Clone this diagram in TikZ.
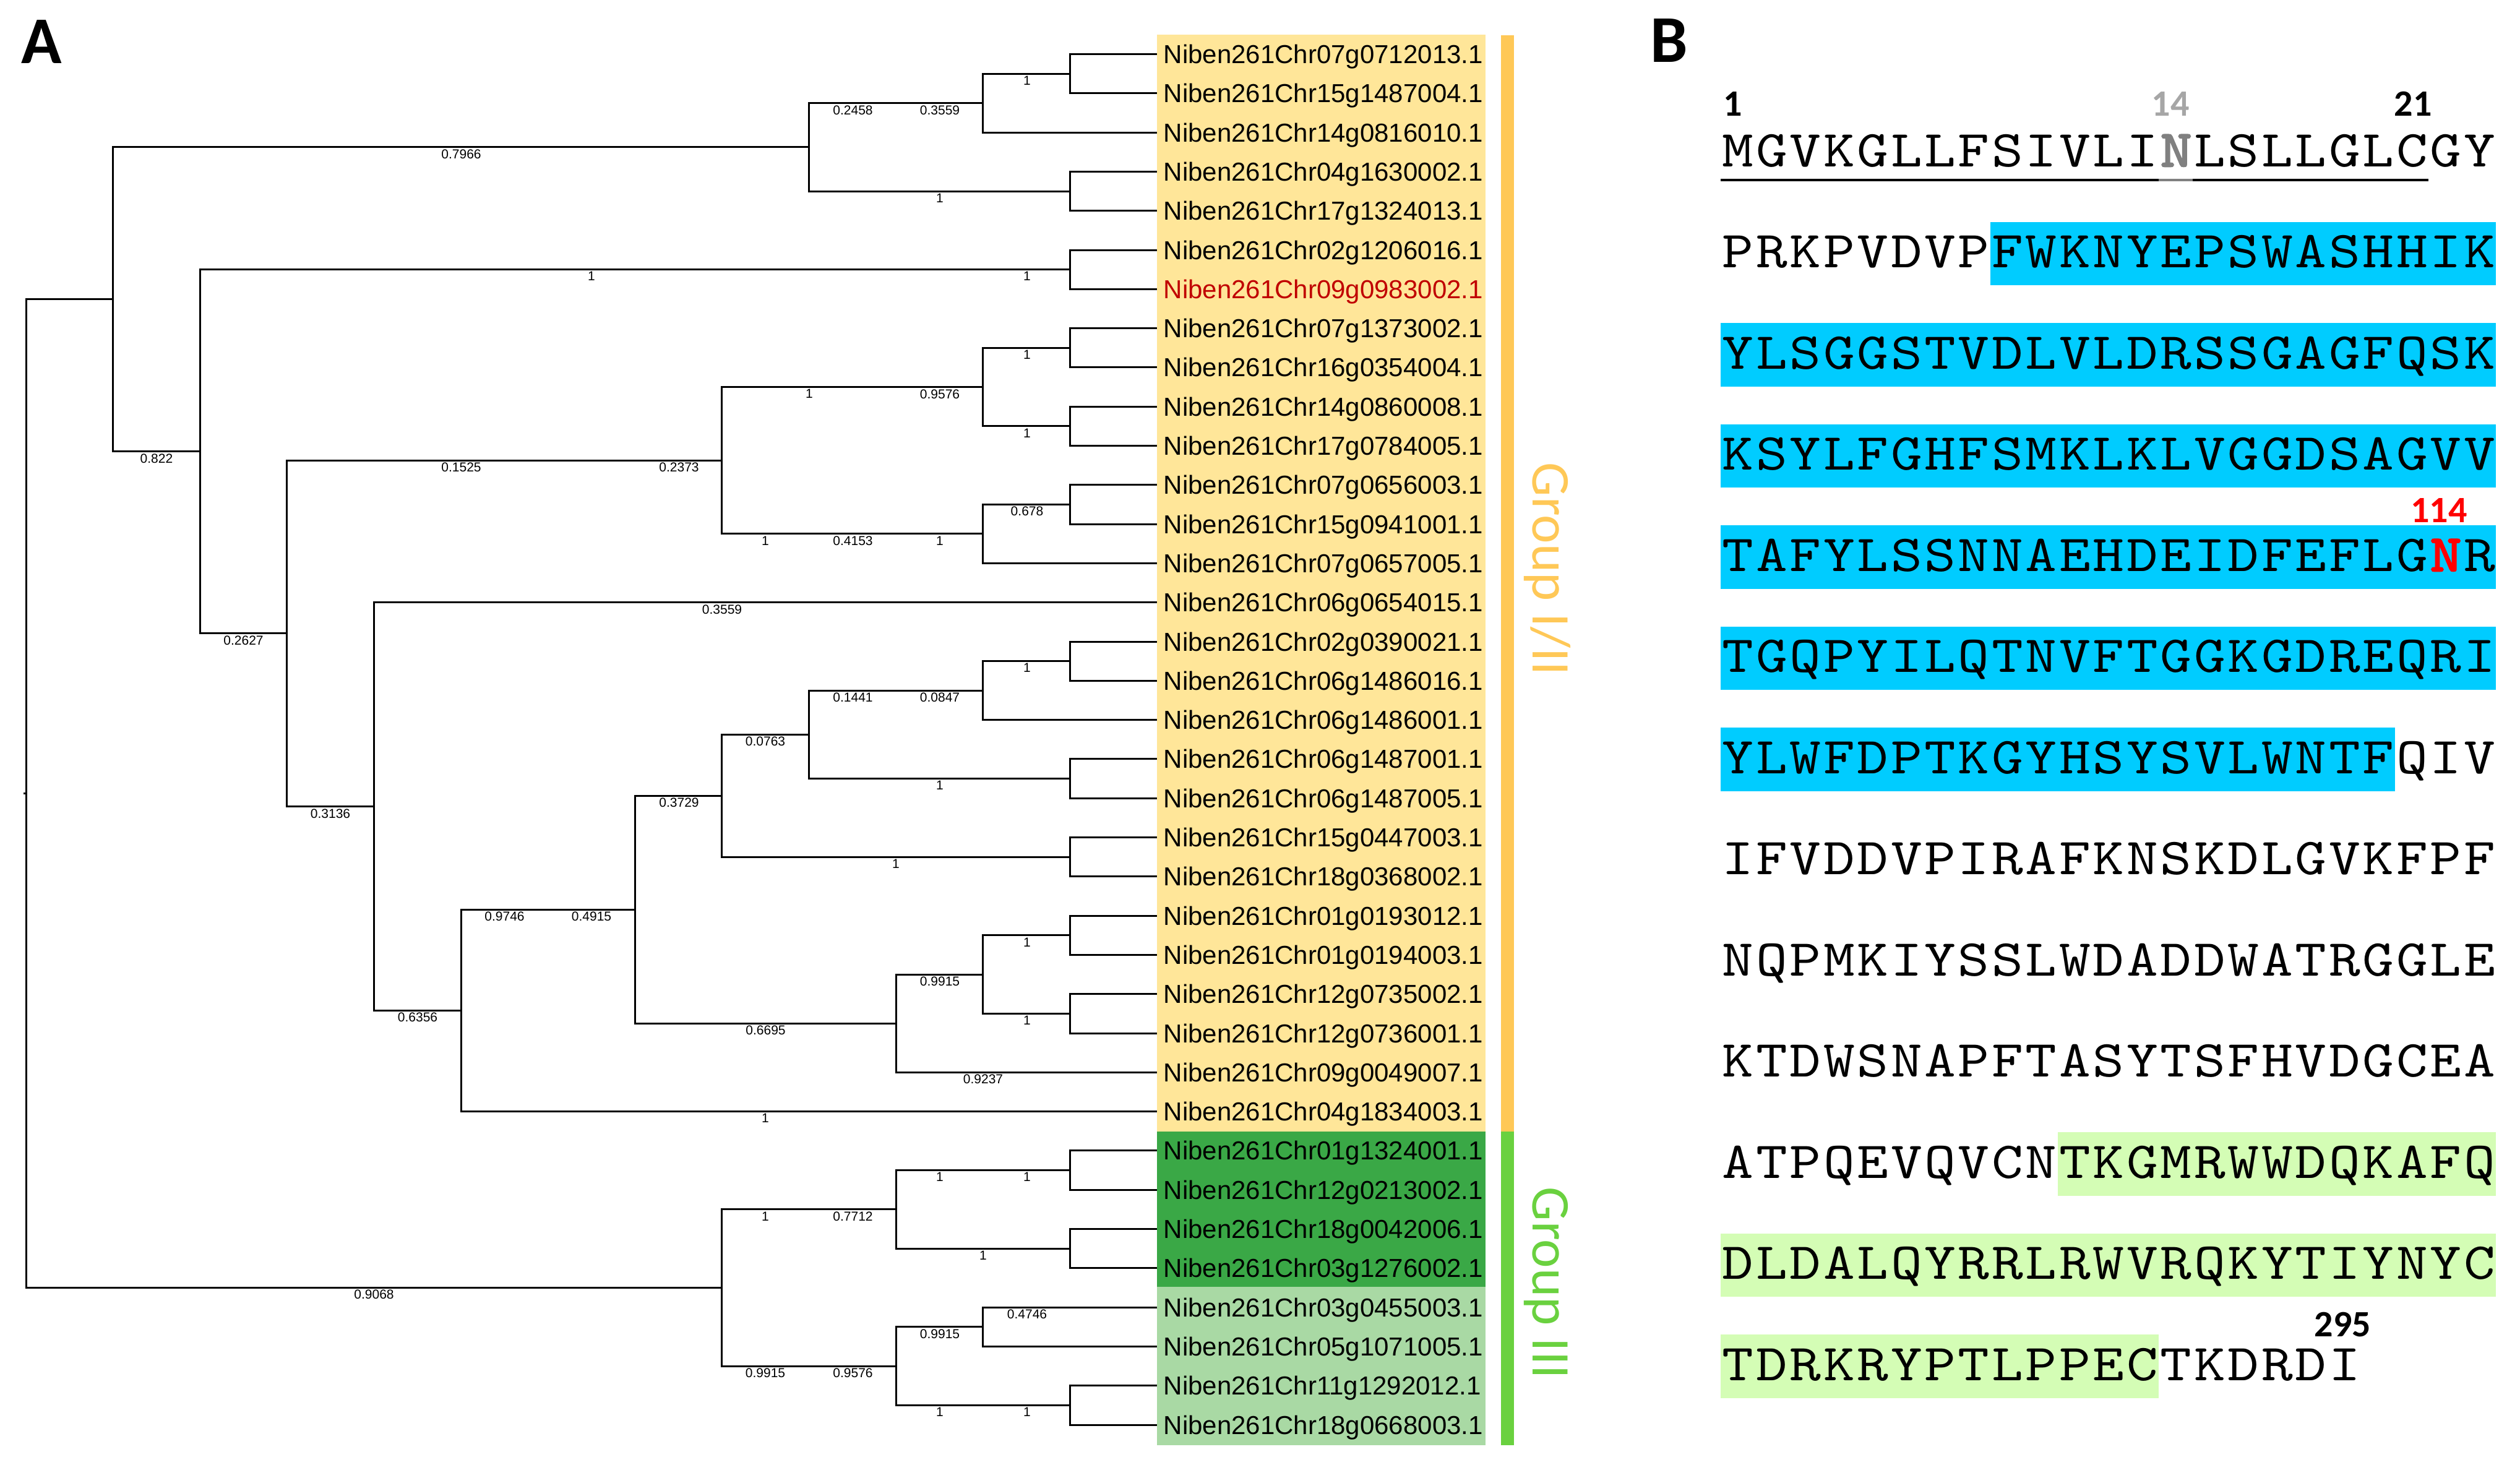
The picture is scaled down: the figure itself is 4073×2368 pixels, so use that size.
\documentclass[tikz,border=0pt]{standalone}
\usepackage{fontspec}
\setmainfont{Liberation Sans}
\newfontfamily\carlito{Carlito}
\newfontfamily\monof{lmmono10-regular.otf}[FakeStretch=1.15]
\newfontfamily\monob{lmmono10-regular.otf}[FakeStretch=1.15,FakeBold=3]
\definecolor{yel}{HTML}{FFE699}
\definecolor{dgreen}{HTML}{3AA846}
\definecolor{lgreen}{HTML}{A9D9A4}
\definecolor{obar}{HTML}{FFC857}
\definecolor{gbar}{HTML}{6AD13F}
\definecolor{cyanbox}{HTML}{00CCFF}
\definecolor{seqgreen}{HTML}{D4FDB5}
\definecolor{leafred}{HTML}{C00000}
\definecolor{nred}{HTML}{FF0000}
\definecolor{ngray}{HTML}{808080}
\definecolor{lgray}{HTML}{A6A6A6}
\newcommand\blab[4]{\node[bl] (#1) at (#2,{#3+3}) {#4};}
\newcommand\cellw{13.62pt}
\def\sq#1{\sqaux#1\relax}
\def\sqaux#1{\ifx#1\relax\else\makebox[\cellw][c]{#1}\expandafter\sqaux\fi}
\newcommand\hl[1]{\makebox[\cellw][c]{#1}}
\begin{document}
\begin{tikzpicture}[x=0.25pt,y=-0.25pt,
  br/.style={line width=0.75pt,black},
  bl/.style={font=\fontsize{5.25}{6}\selectfont,anchor=north,inner sep=0pt},
  leaf/.style={font=\fontsize{10.5}{12}\selectfont,anchor=base west,inner sep=0pt},
  panel/.style={font=\carlito\bfseries\fontsize{27}{30}\selectfont,anchor=base west,inner sep=0pt},
  grp/.style={font=\carlito\fontsize{22}{26}\selectfont,rotate=-90,anchor=base,inner sep=0pt},
  seq/.style={font=\monof\fontsize{21}{25}\selectfont,anchor=base west,inner sep=0pt,text height=12.8pt,text depth=2pt},
  num/.style={font=\carlito\bfseries\fontsize{15}{18}\selectfont,anchor=base,inner sep=0pt,text depth=0pt}]
\useasboundingbox (0,0) rectangle (4073,2368);

% ---------- panel labels
\node[panel] (pA) at (34,102) {A};
\node[panel] (pB) at (2667,100) {B};

% ---------- label backgrounds and group bars
\fill[yel] (1869.6,56.2) rectangle (2401,1828.5);
\fill[dgreen] (1869.6,1828.5) rectangle (2401,2080);
\fill[lgreen] (1869.6,2080) rectangle (2401,2335.5);
\fill[obar] (2426,57) rectangle (2446.5,1828.5);
\fill[gbar] (2426,1828.5) rectangle (2446.5,2336);
\node[grp,text=obar] (g12) at (2477,920) {Group I/II};
\node[grp,text=gbar] (g3) at (2477,2074) {Group III};

% ---------- leaf tips and names
\foreach \i in {1,...,36} \coordinate (t\i) at (1869.8,{87.5+63.3*(\i-1)});
\foreach \i/\nm in {1/Niben261Chr07g0712013.1,2/Niben261Chr15g1487004.1,3/Niben261Chr14g0816010.1,
 4/Niben261Chr04g1630002.1,5/Niben261Chr17g1324013.1,6/Niben261Chr02g1206016.1,
 8/Niben261Chr07g1373002.1,9/Niben261Chr16g0354004.1,10/Niben261Chr14g0860008.1,
 11/Niben261Chr17g0784005.1,12/Niben261Chr07g0656003.1,13/Niben261Chr15g0941001.1,
 14/Niben261Chr07g0657005.1,15/Niben261Chr06g0654015.1,16/Niben261Chr02g0390021.1,
 17/Niben261Chr06g1486016.1,18/Niben261Chr06g1486001.1,19/Niben261Chr06g1487001.1,
 20/Niben261Chr06g1487005.1,21/Niben261Chr15g0447003.1,22/Niben261Chr18g0368002.1,
 23/Niben261Chr01g0193012.1,24/Niben261Chr01g0194003.1,25/Niben261Chr12g0735002.1,
 26/Niben261Chr12g0736001.1,27/Niben261Chr09g0049007.1,28/Niben261Chr04g1834003.1,
 29/Niben261Chr01g1324001.1,30/Niben261Chr12g0213002.1,31/Niben261Chr18g0042006.1,
 32/Niben261Chr03g1276002.1,33/Niben261Chr03g0455003.1,34/Niben261Chr05g1071005.1,
 35/Niben261Chr11g1292012.1,36/Niben261Chr18g0668003.1}
 \node[leaf] (lab\i) at (1880,{87.5+63.3*(\i-1)+15}) {\nm};
\node[leaf,text=leafred] (lab7) at (1880,{87.5+63.3*6+15}) {Niben261Chr09g0983002.1};

% ---------- internal nodes (columns 42 + 140.6 k)
\coordinate (root) at (42,1282.6);
\coordinate (n1a)  at (182.6,483.8);
\coordinate (n9a)  at (1307.4,237.8);
\coordinate (n11a) at (1588.6,166.6);
\coordinate (n12a) at (1729.2,119.15);
\coordinate (n12b) at (1729.2,309.05);
\coordinate (n2a)  at (323.2,729.8);
\coordinate (n12c) at (1729.2,435.65);
\coordinate (n3a)  at (463.8,1023.9);
\coordinate (n8a)  at (1166.8,744.2);
\coordinate (n11b) at (1588.6,625.55);
\coordinate (n12d) at (1729.2,562.25);
\coordinate (n12e) at (1729.2,688.85);
\coordinate (n11c) at (1588.6,862.9);
\coordinate (n12f) at (1729.2,815.45);
\coordinate (n4a)  at (604.4,1303.55);
\coordinate (n5a)  at (745,1633.4);
\coordinate (n7a)  at (1026.2,1470.2);
\coordinate (n8b)  at (1166.8,1286.2);
\coordinate (n9b)  at (1307.4,1187.3);
\coordinate (n11d) at (1588.6,1116.1);
\coordinate (n12g) at (1729.2,1068.65);
\coordinate (n12h) at (1729.2,1258.55);
\coordinate (n12i) at (1729.2,1385.15);
\coordinate (n10a) at (1448,1654.2);
\coordinate (n11e) at (1588.6,1575.05);
\coordinate (n12j) at (1729.2,1511.75);
\coordinate (n12k) at (1729.2,1638.35);
\coordinate (n8c)  at (1166.8,2081.45);
\coordinate (n10b) at (1448,1954.85);
\coordinate (n12l) at (1729.2,1891.55);
\coordinate (n12m) at (1729.2,2018.15);
\coordinate (n10c) at (1448,2208.05);
\coordinate (n11f) at (1588.6,2144.75);
\coordinate (n12n) at (1729.2,2271.35);

\foreach \p/\c in {root/n1a,root/n8c,n1a/n9a,n1a/n2a,n9a/n11a,n9a/n12b,n11a/n12a,n11a/t3,
 n12a/t1,n12a/t2,n12b/t4,n12b/t5,n2a/n12c,n2a/n3a,n12c/t6,n12c/t7,n3a/n8a,n3a/n4a,
 n8a/n11b,n8a/n11c,n11b/n12d,n11b/n12e,n12d/t8,n12d/t9,n12e/t10,n12e/t11,
 n11c/n12f,n11c/t14,n12f/t12,n12f/t13,n4a/t15,n4a/n5a,n5a/n7a,n5a/t28,
 n7a/n8b,n7a/n10a,n8b/n9b,n8b/n12i,n9b/n11d,n9b/n12h,n11d/n12g,n11d/t18,
 n12g/t16,n12g/t17,n12h/t19,n12h/t20,n12i/t21,n12i/t22,n10a/n11e,n10a/t27,
 n11e/n12j,n11e/n12k,n12j/t23,n12j/t24,n12k/t25,n12k/t26,
 n8c/n10b,n8c/n10c,n10b/n12l,n10b/n12m,n12l/t29,n12l/t30,n12m/t31,n12m/t32,
 n10c/n11f,n10c/n12n,n11f/t33,n11f/t34,n12n/t35,n12n/t36}
 \draw[br] (\p) |- (\c);
\draw[br] (root) -- ++(-4,0);

% ---------- branch labels
\blab{b1}{745.5}{237.8}{0.7966}
\blab{b2}{253}{729.8}{0.822}
\blab{b3}{1378.5}{166.6}{0.2458}
\blab{b4}{1519}{166.6}{0.3559}
\blab{b5}{1660}{119.15}{1}
\blab{b6}{1519}{309.05}{1}
\blab{b7}{956}{435.65}{1}
\blab{b8}{1660}{435.65}{1}
\blab{b9}{393.5}{1023.9}{0.2627}
\blab{b10}{745.5}{744.2}{0.1525}
\blab{b11}{1097.5}{744.2}{0.2373}
\blab{b12}{1308}{625.55}{1}
\blab{b13}{1519}{625.55}{0.9576}
\blab{b14}{1660}{562.25}{1}
\blab{b15}{1660}{688.85}{1}
\blab{b16}{1237}{862.9}{1}
\blab{b17}{1378.5}{862.9}{0.4153}
\blab{b18}{1519}{862.9}{1}
\blab{b19}{1660}{815.45}{0.678}
\blab{b20}{534}{1303.55}{0.3136}
\blab{b21}{1167}{973.7}{0.3559}
\blab{b22}{675}{1633.4}{0.6356}
\blab{b23}{815.5}{1470.2}{0.9746}
\blab{b24}{956}{1470.2}{0.4915}
\blab{b25}{1237}{1796.6}{1}
\blab{b26}{1097.5}{1286.2}{0.3729}
\blab{b27}{1237.5}{1654.2}{0.6695}
\blab{b28}{1237}{1187.3}{0.0763}
\blab{b29}{1448}{1385.15}{1}
\blab{b30}{1378.5}{1116.1}{0.1441}
\blab{b31}{1519}{1116.1}{0.0847}
\blab{b32}{1519}{1258.55}{1}
\blab{b33}{1660}{1068.65}{1}
\blab{b34}{1519}{1575.05}{0.9915}
\blab{b35}{1589}{1733.3}{0.9237}
\blab{b36}{1660}{1511.75}{1}
\blab{b37}{1660}{1638.35}{1}
\blab{b38}{604.5}{2081.45}{0.9068}
\blab{b39}{1237}{1954.85}{1}
\blab{b40}{1378.5}{1954.85}{0.7712}
\blab{b41}{1519}{1891.55}{1}
\blab{b42}{1660}{1891.55}{1}
\blab{b43}{1589}{2018.15}{1}
\blab{b44}{1237}{2208.05}{0.9915}
\blab{b45}{1378.5}{2208.05}{0.9576}
\blab{b46}{1519}{2144.75}{0.9915}
\blab{b47}{1660}{2113.1}{0.4746}
\blab{b48}{1519}{2271.35}{1}
\blab{b49}{1660}{2271.35}{1}

% ---------- panel B : highlight boxes (x0 = 2781, char = 54.48, row k baseline 269+163.5(k-1))
\def\xo{2781}\def\cw{54.48}
\fill[cyanbox] ({\xo+8*\cw},{432.5-74}) rectangle ({\xo+23*\cw},{432.5+28.6});
\fill[cyanbox] (\xo,{596-74}) rectangle ({\xo+23*\cw},{596+28.6});
\fill[cyanbox] (\xo,{759.5-74}) rectangle ({\xo+23*\cw},{759.5+28.6});
\fill[cyanbox] (\xo,{923-74}) rectangle ({\xo+23*\cw},{923+28.6});
\fill[cyanbox] (\xo,{1086.5-74}) rectangle ({\xo+23*\cw},{1086.5+28.6});
\fill[cyanbox] (\xo,{1250-74}) rectangle ({\xo+20*\cw},{1250+28.6});
\fill[seqgreen] ({\xo+10*\cw},{1904-74}) rectangle ({\xo+23*\cw},{1904+28.6});
\fill[seqgreen] (\xo,{2067.5-74}) rectangle ({\xo+23*\cw},{2067.5+28.6});
\fill[seqgreen] (\xo,{2231-74}) rectangle ({\xo+13*\cw},{2231+28.6});

% ---------- sequence rows
\node[seq] (r1)  at (\xo,269)    {\sq{MGVKGLLFSIVLI}\hl{\monob\textcolor{ngray}{N}}\sq{LSLLGLCGY}};
\node[seq] (r2)  at (\xo,432.5)  {\sq{PRKPVDVPFWKNYEPSWASHHIK}};
\node[seq] (r3)  at (\xo,596)    {\sq{YLSGGSTVDLVLDRSSGAGFQSK}};
\node[seq] (r4)  at (\xo,759.5)  {\sq{KSYLFGHFSMKLKLVGGDSAGVV}};
\node[seq] (r5)  at (\xo,923)    {\sq{TAFYLSSNNAEHDEIDFEFLG}\hl{\monob\textcolor{nred}{N}}\sq{R}};
\node[seq] (r6)  at (\xo,1086.5) {\sq{TGQPYILQTNVFTGGKGDREQRI}};
\node[seq] (r7)  at (\xo,1250)   {\sq{YLWFDPTKGYHSYSVLWNTFQIV}};
\node[seq] (r8)  at (\xo,1413.5) {\sq{IFVDDVPIRAFKNSKDLGVKFPF}};
\node[seq] (r9)  at (\xo,1577)   {\sq{NQPMKIYSSLWDADDWATRGGLE}};
\node[seq] (r10) at (\xo,1740.5) {\sq{KTDWSNAPFTASYTSFHVDGCEA}};
\node[seq] (r11) at (\xo,1904)   {\sq{ATPQEVQVCNTKGMRWWDQKAFQ}};
\node[seq] (r12) at (\xo,2067.5) {\sq{DLDALQYRRLRWVRQKYTIYNYC}};
\node[seq] (r13) at (\xo,2231)   {\sq{TDRKRYPTLPPECTKDRDI}};

% ---------- signal peptide underline
\coordinate (u0) at (\xo,290.7);
\coordinate (u1) at ({\xo+13*\cw},290.7);
\coordinate (u2) at ({\xo+14*\cw},290.7);
\coordinate (u3) at ({\xo+21*\cw},290.7);
\draw[line width=1pt,black] (u0) -- (u1);
\draw[line width=1pt,ngray] (u1) -- (u2);
\draw[line width=1pt,black] (u2) -- (u3);

% ---------- position numbers
\node[num] (p1)   at (2801,187.5) {1};
\node[num,text=lgray] (p14) at (3508,187.5) {14};
\node[num] (p21)  at (3900,187.5) {21};
\node[num,text=nred] (p114) at (3942,844) {114};
\node[num] (p295) at (3786.5,2160) {295};
\end{tikzpicture}
\end{document}
